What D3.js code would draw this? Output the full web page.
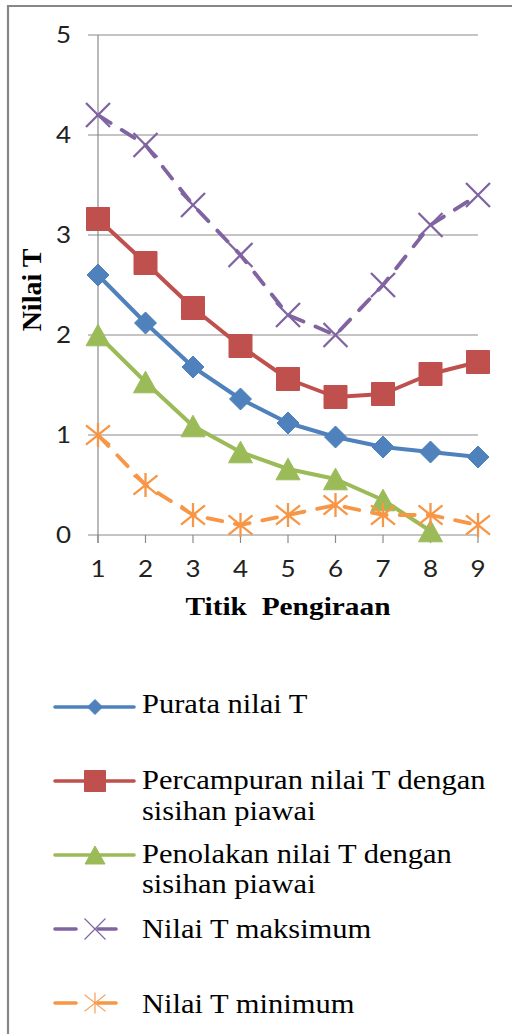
<!DOCTYPE html>
<html>
<head>
<meta charset="utf-8">
<script src="https://cdn.jsdelivr.net/npm/d3@7"></script>
<style>
html,body{margin:0;padding:0;background:#fff;}
svg{display:block;}
</style>
</head>
<body>
<svg id="chart" width="512" height="1034"></svg>
<script>
// ---- data ----
const categories = [1, 2, 3, 4, 5, 6, 7, 8, 9];
const yTicks = [0, 1, 2, 3, 4, 5];
const purata = [2.6, 2.12, 1.68, 1.36, 1.12, 0.98, 0.88, 0.83, 0.78];
const percampuran = [3.16, 2.72, 2.27, 1.89, 1.56, 1.38, 1.41, 1.61, 1.73];
const penolakan = [2.0, 1.53, 1.09, 0.83, 0.66, 0.56, 0.35, 0.04];
const maksimum = [4.2, 3.9, 3.3, 2.8, 2.2, 2.0, 2.5, 3.1, 3.4];
const minimum = [1.0, 0.5, 0.2, 0.1, 0.2, 0.3, 0.2, 0.2, 0.1];
const seriesNames = ["Purata nilai T", "Percampuran nilai T dengan|sisihan piawai", "Penolakan nilai T dengan|sisihan piawai", "Nilai T maksimum", "Nilai T minimum"];
const xTitle = "Titik  Pengiraan";
const yTitle = "Nilai T";

const colors = ["#4F81BD", "#C0504D", "#9BBB59", "#8064A2", "#F79646"];
const markers = ["diamond", "square", "triangle", "x", "star"];
const dashed = [false, false, false, true, true];
const allValues = [purata, percampuran, penolakan, maksimum, minimum];

const svg = d3.select("#chart");
const SX = 1.13; // horizontal stretch of text in the reference

// frame
svg.append("path").attr("d", "M8,1034 L8,6 L512,6")
  .attr("fill", "none").attr("stroke", "#878787").attr("stroke-width", 2.2);

const x = d3.scalePoint().domain(categories).range([98, 478]);
const y = d3.scaleLinear().domain([0, 5]).range([535, 35]);

// gridlines
svg.append("g").selectAll("line").data(yTicks).join("line")
  .attr("x1", 88).attr("x2", 478)
  .attr("y1", d => y(d)).attr("y2", d => y(d))
  .attr("stroke", "#8a8a8a").attr("stroke-width", 1.2);

// vertical axis line
svg.append("line").attr("x1", x(1)).attr("x2", x(1)).attr("y1", y(5)).attr("y2", y(0) + 8)
  .attr("stroke", "#8a8a8a").attr("stroke-width", 1.2);
// x tick marks
svg.append("g").selectAll("line").data(categories).join("line")
  .attr("x1", d => x(d)).attr("x2", d => x(d))
  .attr("y1", y(0)).attr("y2", y(0) + 8)
  .attr("stroke", "#8a8a8a").attr("stroke-width", 1.2);

// y tick labels
svg.append("g").selectAll("text").data(yTicks).join("text")
  .attr("transform", d => `translate(71,${y(d) + 8}) scale(${SX},1)`)
  .attr("text-anchor", "end")
  .attr("font-family", "Lato, 'Open Sans', sans-serif").attr("font-size", 23)
  .attr("fill", "#222").text(d => d);

// x tick labels
svg.append("g").selectAll("text").data(categories).join("text")
  .attr("transform", d => `translate(${x(d)},577) scale(${SX},1)`)
  .attr("text-anchor", "middle")
  .attr("font-family", "Lato, 'Open Sans', sans-serif").attr("font-size", 23)
  .attr("fill", "#222").text(d => d);

// axis titles
svg.append("text").attr("transform", `translate(288,615) scale(${SX},1)`)
  .attr("text-anchor", "middle").attr("font-family", "'Liberation Serif', serif")
  .attr("font-weight", "bold").attr("font-size", 26).attr("fill", "#000")
  .attr("xml:space", "preserve").style("white-space", "pre").text(xTitle);
svg.append("text").attr("transform", `translate(41,290) rotate(-90)`)
  .attr("text-anchor", "middle").attr("font-family", "'Liberation Serif', serif")
  .attr("font-weight", "bold").attr("font-size", 28).attr("fill", "#000").text(yTitle);

function markerPath(type, s) {
  const h = s / 2;
  switch (type) {
    case "diamond": return `M0,${-h}L${h},0L0,${h}L${-h},0Z`;
    case "square": return `M${-h},${-h}H${h}V${h}H${-h}Z`;
    case "triangle": return `M0,${-h * 0.9}L${h},${h * 0.9}L${-h},${h * 0.9}Z`;
    case "x": return `M${-h},${-h}L${h},${h}M${h},${-h}L${-h},${h}`;
    case "star": return `M${-h},${-h * 0.8}L${h},${h * 0.8}M${h},${-h * 0.8}L${-h},${h * 0.8}M0,${-h}V${h}`;
  }
}
const plotSizes = [22, 23, 24, 24, 24];
const legendSizes = [15, 21, 20, 21, 21];

allValues.forEach((vals, i) => {
  const pts = vals.map((v, k) => [x(categories[k]), y(v)]);
  const g = svg.append("g");
  g.append("path").attr("d", d3.line()(pts))
    .attr("fill", "none").attr("stroke", colors[i]).attr("stroke-width", dashed[i] ? 3.8 : 4)
    .attr("stroke-linejoin", "round")
    .attr("stroke-linecap", dashed[i] ? "round" : "butt")
    .attr("stroke-dasharray", dashed[i] ? "15,13" : null);
  const open = markers[i] === "x" || markers[i] === "star";
  g.selectAll("path.m").data(pts).join("path").attr("class", "m")
    .attr("transform", d => `translate(${d[0]},${d[1]})`)
    .attr("d", markerPath(markers[i], plotSizes[i]))
    .attr("fill", open ? "none" : colors[i])
    .attr("stroke", colors[i]).attr("stroke-width", open ? 2.3 : 1);
});

// legend
const legendLineY = [707, 781, 855, 929, 1003];
const legendBase = [[713], [789, 820], [863, 893], [938], [1013]];
seriesNames.forEach((name, i) => {
  const g = svg.append("g");
  const ly = legendLineY[i];
  if (dashed[i]) {
    g.append("line").attr("x1", 55).attr("x2", 76).attr("y1", ly).attr("y2", ly)
      .attr("stroke", colors[i]).attr("stroke-width", 3.6).attr("stroke-linecap", "round");
    g.append("line").attr("x1", 98).attr("x2", 116).attr("y1", ly).attr("y2", ly)
      .attr("stroke", colors[i]).attr("stroke-width", 3.6).attr("stroke-linecap", "round");
  } else {
    g.append("line").attr("x1", 55).attr("x2", 134).attr("y1", ly).attr("y2", ly)
      .attr("stroke", colors[i]).attr("stroke-width", 3.6).attr("stroke-linecap", "round");
  }
  const open = markers[i] === "x" || markers[i] === "star";
  g.append("path").attr("transform", `translate(95,${ly})`)
    .attr("d", markerPath(markers[i], legendSizes[i]))
    .attr("fill", open ? "none" : colors[i])
    .attr("stroke", colors[i]).attr("stroke-width", open ? 1.1 : 1);
  name.split("|").forEach((line, j) => {
    g.append("text").attr("transform", `translate(142,${legendBase[i][j]}) scale(${SX},1)`)
      .attr("font-family", "'Liberation Serif', serif").attr("font-size", 27)
      .attr("fill", "#000").text(line);
  });
});
</script>
</body>
</html>
